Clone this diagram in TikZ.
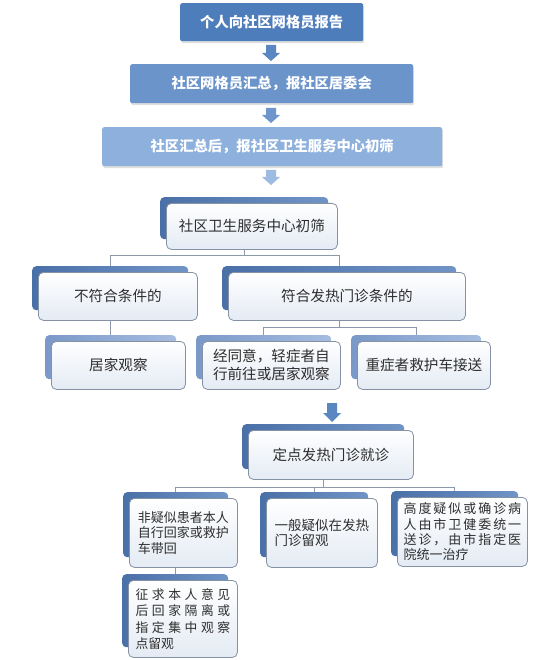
\documentclass[tikz,border=0pt]{standalone}
\usepackage{fontspec}
\newfontfamily\cjk{Noto Sans CJK SC}
\newfontfamily\cjkwide[LetterSpace=15]{Noto Sans CJK SC}
\newfontfamily\cjkwider[LetterSpace=28]{Noto Sans CJK SC}
\usetikzlibrary{shadows,calc}
\pgfdeclarelayer{bg}
\pgfdeclarelayer{back}
\pgfsetlayers{bg,back,main}
\definecolor{topA}{HTML}{4E7DBB}
\definecolor{topB}{HTML}{6B94CB}
\definecolor{topC}{HTML}{8DB0DD}
\definecolor{arrA}{HTML}{5A86C2}
\definecolor{arrB}{HTML}{6E96CC}
\definecolor{arrC}{HTML}{9EBBE2}
\definecolor{shDarkL}{HTML}{4A70A8}
\definecolor{shDarkR}{HTML}{7094C6}
\definecolor{shLightL}{HTML}{7A98C8}
\definecolor{shLightR}{HTML}{A6BDE0}
\definecolor{boxlow}{HTML}{E4EBF4}
\definecolor{boxline}{HTML}{8592A3}
\definecolor{conncol}{HTML}{8C99A8}
\definecolor{txt}{HTML}{2E2E2E}
\newcommand\mybox[8]{% name, x1, y1, x2, y2, shadow style, extra options, text
  \node[#6, anchor=north west, minimum width={#4-#2-3}, minimum height={#5-#3-4}] (#1s) at ({#2-6},{#3-6}) {};
  \node[lbox, #7, anchor=north west, minimum width={#4-#2}, minimum height={#5-#3}] (#1) at (#2,#3) {#8};
}
\newcommand\blockarrow[5]{% x, ytop, yhead, ybot, color
  \fill[#5] ({#1-5},#2) -- ({#1+5},#2) -- ({#1+5},#3) -- ({#1+9},#3) -- (#1,#4) -- ({#1-9},#3) -- ({#1-5},#3) -- cycle;
}
\begin{document}
\begin{tikzpicture}[x=1pt,y=-1pt,
  tbox/.style={inner sep=0pt, rounded corners=2pt, text=white, font=\cjk\bfseries\fontsize{14.3}{17}\selectfont,
    drop shadow={opacity=0.25, shadow xshift=1pt, shadow yshift=-2pt}},
  lbox/.style={draw=boxline, line width=0.8pt, rounded corners=5pt, inner sep=0pt, align=left,
    top color=white, bottom color=boxlow, text=txt, font=\cjk\fontsize{14.6}{18}\selectfont},
  shadA/.style={inner sep=0pt, rounded corners=4pt, left color=shDarkL, right color=shDarkR},
  shadB/.style={inner sep=0pt, rounded corners=4pt, left color=shLightL, right color=shLightR},
  conn/.style={draw=conncol, line width=0.9pt},
  small/.style={font=\cjk\fontsize{13}{15.3}\selectfont}]
\begin{pgfonlayer}{bg}
\fill[white] (0,0) rectangle (546,660);
\end{pgfonlayer}
\useasboundingbox (0,0) rectangle (546,660);

% top chain
\node[tbox, fill=topA, anchor=north west, minimum width=183, minimum height=38] (t1) at (180,3) {个人向社区网格员报告};
\node[tbox, fill=topB, anchor=north west, minimum width=283, minimum height=39] (t2) at (130,64) {社区网格员汇总，报社区居委会};
\node[tbox, fill=topC, anchor=north west, minimum width=340, minimum height=39] (t3) at (102,127) {社区汇总后，报社区卫生服务中心初筛};
\blockarrow{271}{45}{53}{61}{arrA}
\blockarrow{271}{108}{115}{123}{arrB}
\blockarrow{271}{170}{177}{185}{arrC}

% screening
\mybox{b4}{166}{203}{337}{249}{shadA}{}{社区卫生服务中心初筛}
\mybox{b5L}{38}{272}{197}{320}{shadA}{}{不符合条件的}
\mybox{b5R}{228}{272}{465}{320}{shadA}{}{符合发热门诊条件的}
\mybox{b6}{51}{341}{185}{389}{shadB}{}{居家观察}
\mybox{b7}{202}{341}{340}{389}{shadB}{}{经同意，轻症者自\\行前往或居家观察}
\mybox{b8}{357}{341}{490}{389}{shadB}{}{重症者救护车接送}

\blockarrow{332}{403}{413}{422}{arrA}

\mybox{b9}{248}{430}{413}{479}{shadA}{}{定点发热门诊就诊}
\mybox{b10}{129}{498}{237}{567}{shadA}{font=\cjk\fontsize{13}{15.3}\selectfont}{非疑似患者本人\\自行回家或救护\\车带回}
\mybox{b11}{266}{498}{377}{567}{shadA}{font=\cjk\fontsize{13.5}{15.5}\selectfont}{一般疑似在发热\\门诊留观}
\mybox{b12}{397}{497}{527}{566}{shadA}{font=\cjk\fontsize{13}{15.3}\selectfont}{{\cjkwide 高度疑似或确诊病}\\{\cjkwide 人由市卫健委统一}\\{\cjkwide 送诊，由市指定医}\\院统一治疗}
\mybox{b13}{128}{580}{237}{657}{shadA}{font=\cjk\fontsize{12.8}{16.4}\selectfont}{{\cjkwider 征求本人意见}\\{\cjkwider 后回家隔离或}\\{\cjkwider 指定集中观察}\\点留观}

% connectors
\coordinate (h1) at (0,255);
\coordinate (h2) at (0,327);
\coordinate (h3) at (0,487);
\begin{pgfonlayer}{back}
\draw[conn] (b4s.south) -- (b4s.south |- h1);
\draw[conn] (b5Ls.north) |- (b5Rs.north |- h1) -- (b5Rs.north);
\draw[conn] (b5Ls.south) -- (b5Ls.south |- b6s.north);
\draw[conn] (b5Rs.south) -- (b5Rs.south |- h2);
\draw[conn] (b7s.north) |- (b8s.north |- h2) -- (b8s.north);
\draw[conn] (b9s.south) -- (b9s.south |- h3);
\draw[conn] (b10s.north) |- (b12s.north |- h3) -- (b12s.north);
\draw[conn] (b11s.north) -- (b11s.north |- h3);
\draw[conn] (b10s.south) -- (b10s.south |- b13s.north);
\end{pgfonlayer}
\end{tikzpicture}
\end{document}
